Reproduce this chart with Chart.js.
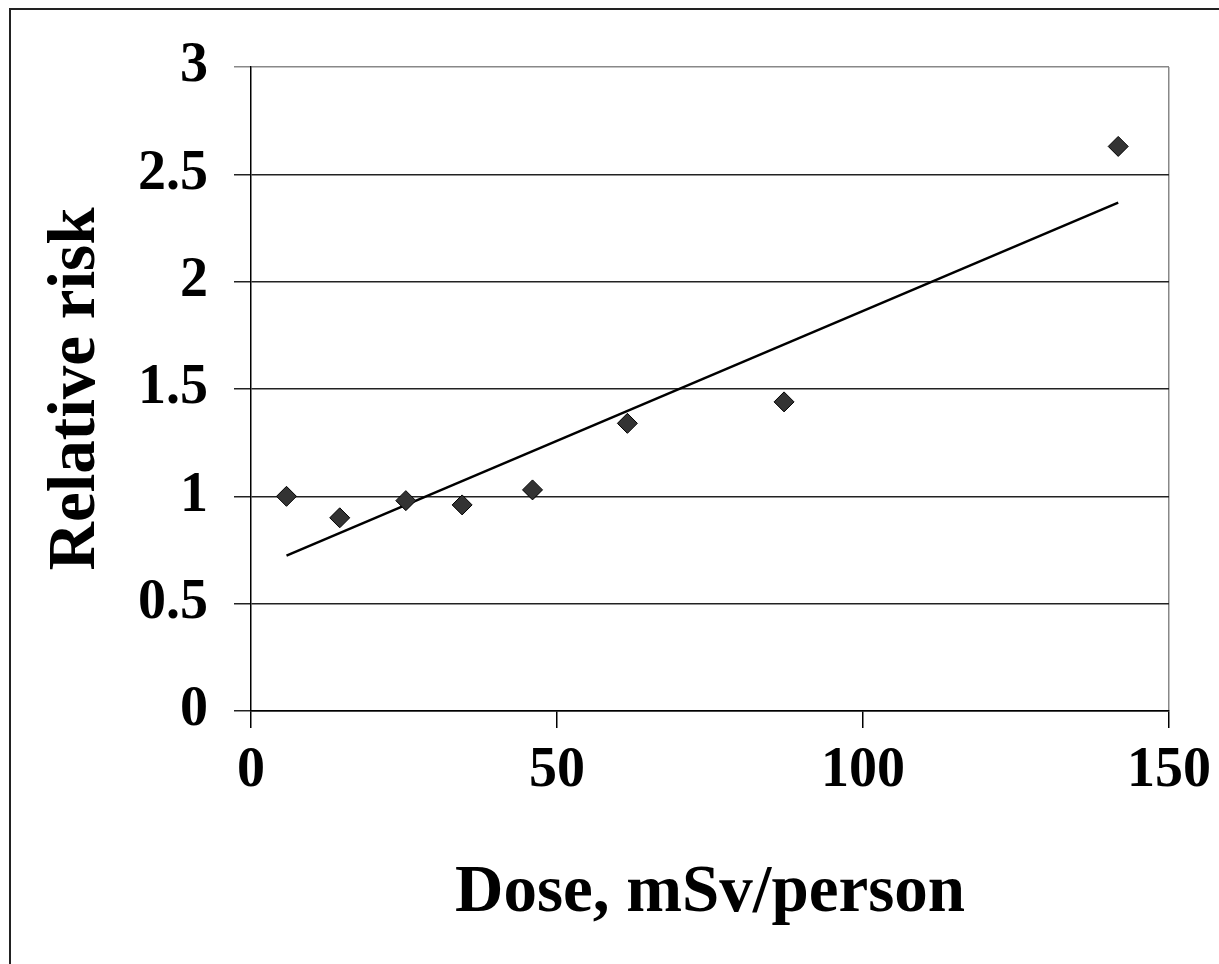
<!DOCTYPE html>
<html>
<head>
<meta charset="utf-8">
<title>Relative risk vs dose</title>
<script src="https://cdn.jsdelivr.net/npm/chart.js@4/dist/chart.umd.min.js"></script>
<style>
  html, body { margin: 0; padding: 0; background: #fff; overflow: hidden; }
  #wrap { position: relative; width: 1219px; height: 964px; }
  #frame { position: absolute; left: 9px; top: 8px; width: 1300px; height: 1100px;
           border-left: 2px solid #222; border-top: 2px solid #222; }
  canvas { position: absolute; left: 0; top: 0; }
</style>
</head>
<body>
<div id="wrap">
  <div id="frame"></div>
  <canvas id="chart" width="1219" height="964"></canvas>
</div>
<script>
// dose (mSv/person) and relative risk for each group
const doses = [5.8, 14.5, 25.3, 34.5, 46.0, 61.5, 87.1, 141.7];
const risks = [1.0, 0.90, 0.98, 0.96, 1.03, 1.34, 1.44, 2.63];

// linear trend line end points
const trendDoses = [5.8, 141.7];
const trendRisks = [0.724, 2.368];

const xTicks = [0, 50, 100, 150];
const yTicks = [0, 0.5, 1, 1.5, 2, 2.5, 3];

const serif = "'Liberation Serif', 'Times New Roman', serif";

let ctx = document.getElementById('chart');
let chart = new Chart(ctx, {
    type: 'scatter',
    data: {
        datasets: [{
            data: doses.map((d, i) => ({ x: d, y: risks[i] })),
            pointStyle: 'rectRot',
            pointRadius: 10,
            backgroundColor: '#333333',
            borderColor: '#000000',
            borderWidth: 1,
            order: 1
        }, {
            type: 'line',
            data: trendDoses.map((d, i) => ({ x: d, y: trendRisks[i] })),
            borderColor: '#000000',
            borderWidth: 2.5,
            pointRadius: 0,
            fill: false,
            order: 2
        }]
    },
    options: {
        responsive: false,
        animation: false,
        layout: {
            padding: { left: 10, top: 67, right: 50, bottom: 0 }
        },
        plugins: {
            legend: { display: false },
            tooltip: { enabled: false }
        },
        scales: {
            x: {
                type: 'linear',
                min: 0,
                max: 150,
                afterBuildTicks: (scale) => { scale.ticks = xTicks.map(v => ({ value: v })); },
                afterFit: (scale) => {
                    scale.height = 964 - 711;
                    // let the last label hang into the right margin
                    scale.paddingRight = 0;
                },
                border: { display: true, color: '#000', width: 1.5 },
                grid: {
                    drawOnChartArea: true,
                    color: (c) => c.tick && c.tick.value === 150 ? '#888' : 'rgba(0,0,0,0)',
                    tickColor: '#000',
                    tickLength: 17,
                    lineWidth: 1.5
                },
                ticks: {
                    color: '#000',
                    padding: 10,
                    font: { family: serif, size: 56, weight: 'bold' }
                },
                title: {
                    display: true,
                    text: 'Dose, mSv/person',
                    color: '#000',
                    padding: { top: 0, bottom: 30 },
                    font: { family: serif, size: 67, weight: 'bold' }
                }
            },
            y: {
                min: 0,
                max: 3,
                afterBuildTicks: (scale) => { scale.ticks = yTicks.map(v => ({ value: v })); },
                afterFit: (scale) => { scale.width = 251 - 10; },
                border: { display: true, color: '#000', width: 1.5 },
                grid: {
                    color: (c) => c.tick && c.tick.value === 3 ? '#888' : '#222',
                    tickColor: (c) => c.tick && c.tick.value === 3 ? '#888' : '#222',
                    tickLength: 17,
                    lineWidth: 1.5
                },
                ticks: {
                    color: '#000',
                    padding: 26,
                    callback: (v) => String(v),
                    font: { family: serif, size: 56, weight: 'bold' }
                },
                title: {
                    display: true,
                    text: 'Relative risk',
                    color: '#000',
                    padding: { top: 26, bottom: 0 },
                    font: { family: serif, size: 67, weight: 'bold' }
                }
            }
        }
    }
});
</script>
</body>
</html>
